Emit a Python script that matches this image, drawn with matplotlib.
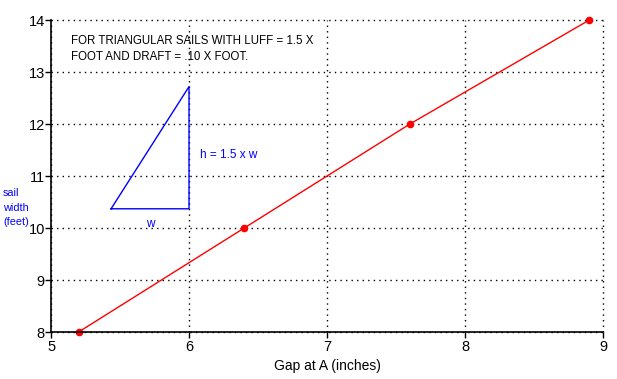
import matplotlib
matplotlib.use('Agg')
import matplotlib.pyplot as plt

# Gap at A vs sail width
gap_in = [5.2, 6.4, 7.6, 8.9]
width_ft = [8, 10, 12, 14]

# little sketch of the sail (data coords)
tri_x = [5.435, 6.0, 6.0, 5.435]
tri_y = [10.37, 10.37, 12.72, 10.37]

xticks = [5, 6, 7, 8, 9]
yticks = [8, 9, 10, 11, 12, 13, 14]

plt.rcParams['font.family'] = ['Liberation Sans', 'DejaVu Sans']

fig = plt.figure(figsize=(6.17, 3.79), dpi=100)
ax = fig.add_axes([0.0827, 0.124, 0.8946, 0.823])

ax.plot(gap_in, width_ft, color='red', lw=1, marker='o', ms=4.5, zorder=3, clip_on=False)
ax.plot(tri_x, tri_y, color='blue', lw=1)

ax.set_xlim(5, 9)
ax.set_ylim(8, 14)
ax.set_xticks(xticks)
ax.set_yticks(yticks)
ax.tick_params(direction='out', length=4, width=1, labelsize=10.5, color='black')
ax.tick_params(axis='y', pad=0.5)
ax.tick_params(axis='x', pad=1.5)
ax.grid(True, linestyle=(0, (1, 3)), color='black', lw=1)
# let the edge grid lines (x=9, y=14) show fully
for gl in ax.get_xgridlines() + ax.get_ygridlines():
    gl.set_clip_on(False)
for s in ['top', 'right']:
    ax.spines[s].set_visible(False)
for s in ['left', 'bottom']:
    ax.spines[s].set_linewidth(1.2)
    ax.spines[s].set_zorder(4)

ax.set_xlabel('Gap at A (inches)', fontsize=10, labelpad=4)

ax.text(5.145, 13.45, 'FOR TRIANGULAR SAILS WITH LUFF = 1.5 X\nFOOT AND DRAFT = .10 X FOOT.',
        fontsize=8.3, va='center', ha='left', linespacing=1.45)
ax.text(6.08, 11.4, 'h = 1.5 x w', fontsize=8.5, color='blue', va='center')
ax.text(5.72, 10.08, 'w', fontsize=8.5, color='blue', ha='center', va='center')
fig.text(0.005, 0.452, 'sail\nwidth\n(feet)', fontsize=7.8, color='blue',
         va='center', ha='left', linespacing=1.6)

fig.savefig('out.png', dpi=100)
